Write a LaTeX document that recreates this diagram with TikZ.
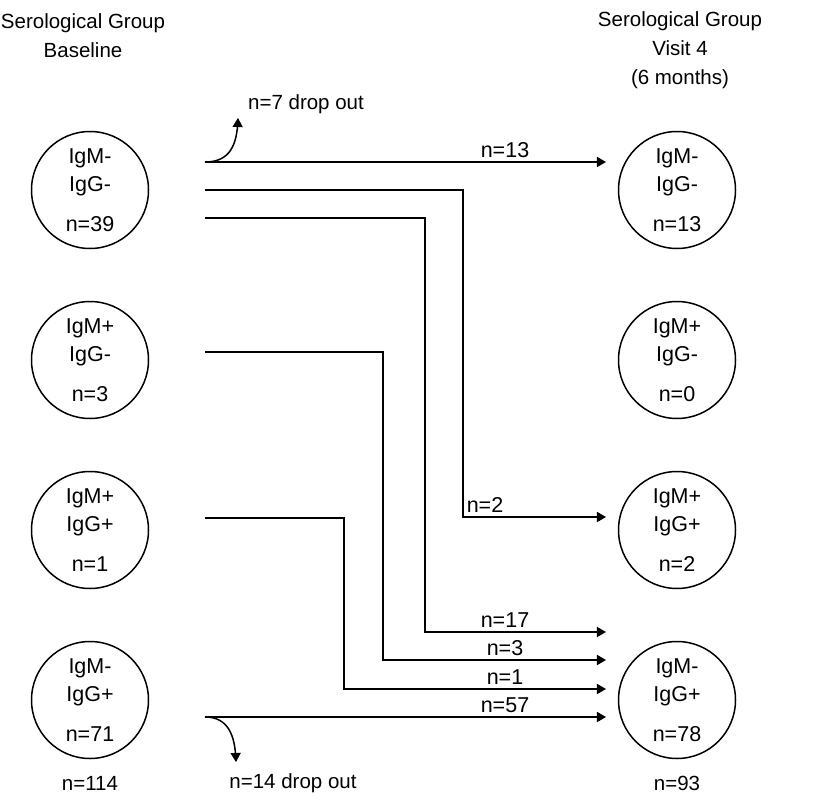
\documentclass[tikz,border=0pt]{standalone}
\usepackage{fontspec}
\setmainfont{Liberation Sans}
\usetikzlibrary{arrows}
\begin{document}
\begin{tikzpicture}
  [
    x=1pt,y=-1pt,
    group/.style={draw,circle,line width=1.5pt,minimum size=117pt,inner sep=0pt,
      align=center,font=\fontsize{21.5}{28}\selectfont},
    label/.style={font=\fontsize{20.5}{29}\selectfont,align=center},
    flow/.style={line width=1.5pt,->,>=triangle 60},
    count/.style={font=\fontsize{21.5}{24}\selectfont,anchor=base}
  ]
  \useasboundingbox (0,0) rectangle (817,800);
  % headers
  \node[label] (hl) at (83,36) {Serological Group\\Baseline};
  \node[label] (hr) at (680,50) {Serological Group\\Visit 4\\(6 months)};
  % baseline groups
  \node[group] (L1) at (90,190) {IgM-\\IgG-\\[12pt]n=39};
  \node[group] (L2) at (90,360) {IgM+\\IgG-\\[12pt]n=3};
  \node[group] (L3) at (90,530) {IgM+\\IgG+\\[12pt]n=1};
  \node[group] (L4) at (90,700) {IgM-\\IgG+\\[12pt]n=71};
  % visit 4 groups
  \node[group] (R1) at (677,190) {IgM-\\IgG-\\[12pt]n=13};
  \node[group] (R2) at (677,360) {IgM+\\IgG-\\[12pt]n=0};
  \node[group] (R3) at (677,530) {IgM+\\IgG+\\[12pt]n=2};
  \node[group] (R4) at (677,700) {IgM-\\IgG+\\[12pt]n=78};
  % totals
  \node[label] (tl) at (90,783) {n=114};
  \node[label] (tr) at (677,783) {n=93};
  \node[label] (dtop) at (306,104) {n=7 drop out};
  \node[label] (dbot) at (293,783) {n=14 drop out};
  % start and end points
  \coordinate (s1) at (205,162);
  \coordinate (s2) at (205,190);
  \coordinate (s3) at (205,218);
  \coordinate (s4) at (205,352);
  \coordinate (s5) at (205,518);
  \coordinate (s6) at (205,717);
  \coordinate (e1) at (606,162);
  \coordinate (e2) at (606,517);
  \coordinate (e3) at (606,632);
  \coordinate (e4) at (606,660);
  \coordinate (e5) at (606,689);
  \coordinate (e6) at (606,717);
  \coordinate (o1) at (238,118);
  \coordinate (o2) at (236,762);
  % flows
  \draw[flow] (s1) -- (e1);
  \draw[flow] (s2) -| (463,517) -- (e2);
  \draw[flow] (s3) -| (425,632) -- (e3);
  \draw[flow] (s4) -| (383,660) -- (e4);
  \draw[flow] (s5) -| (344,689) -- (e5);
  \draw[flow] (s6) -- (e6);
  % drop outs
  \draw[flow] (s1) .. controls (230,162) and (237,145) .. (o1);
  \draw[flow] (s6) .. controls (228,717) and (235,735) .. (o2);
  % counts
  \node[count] (c1) at (505,157) {n=13};
  \node[count] (c2) at (485,512) {n=2};
  \node[count] (c3) at (505,627) {n=17};
  \node[count] (c4) at (505,655) {n=3};
  \node[count] (c5) at (505,684) {n=1};
  \node[count] (c6) at (505,712) {n=57};
\end{tikzpicture}
\end{document}
